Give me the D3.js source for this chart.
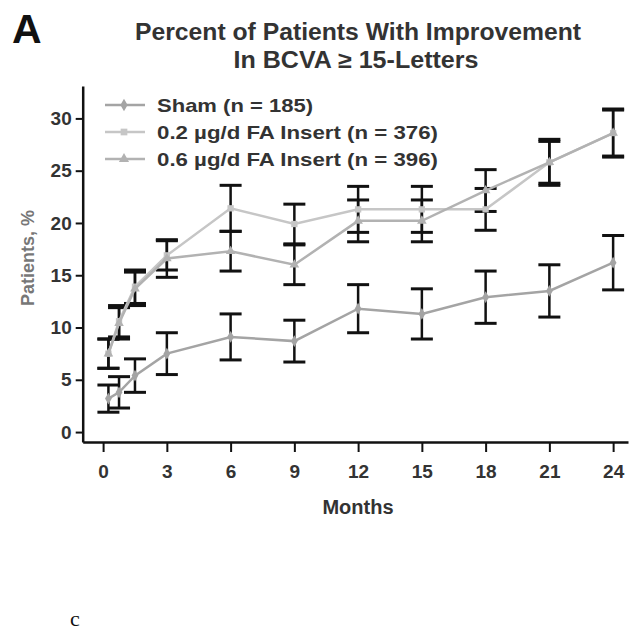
<!DOCTYPE html>
<html>
<head>
<meta charset="utf-8">
<script src="https://cdn.jsdelivr.net/npm/d3@7"></script>
<style>
  html, body { margin: 0; padding: 0; background: #fff; }
  svg { display: block; }
</style>
</head>
<body>
<svg id="chart" width="638" height="637" font-family="'Liberation Sans', Arial, sans-serif"></svg>
<script>
// ---- data ----
const months = [0.25, 0.75, 1.5, 3, 6, 9, 12, 15, 18, 21, 24];
const shamValues = [3.2, 3.8, 5.4, 7.5, 9.1, 8.7, 11.8, 11.3, 12.9, 13.5, 16.2];
const shamErrors = [1.3, 1.5, 1.6, 2.0, 2.2, 2.0, 2.3, 2.4, 2.5, 2.5, 2.6];
const fa02Values = [7.5, 10.6, 13.9, 16.9, 21.4, 19.9, 21.3, 21.3, 21.3, 25.8, 28.6];
const fa02Errors = [1.4, 1.5, 1.6, 1.4, 2.2, 1.9, 2.2, 2.2, 2.0, 2.2, 2.3];
const fa06Values = [7.5, 10.4, 13.7, 16.6, 17.3, 16.0, 20.2, 20.2, 23.1, 25.8, 28.6];
const fa06Errors = [1.4, 1.5, 1.6, 1.8, 1.9, 1.9, 2.0, 2.0, 2.0, 2.0, 2.2];
const seriesNames = ["Sham (n = 185)", "0.2 \u00b5g/d FA Insert (n = 376)", "0.6 \u00b5g/d FA Insert (n = 396)"];
const xTicks = [0, 3, 6, 9, 12, 15, 18, 21, 24];
const yTicks = [0, 5, 10, 15, 20, 25, 30];

const series = [
  { name: seriesNames[0], values: shamValues, errors: shamErrors, color: "#a4a4a4", symbol: d3.symbolDiamond, w: 156 },
  { name: seriesNames[1], values: fa02Values, errors: fa02Errors, color: "#c6c6c6", symbol: d3.symbolSquare, w: 281 },
  { name: seriesNames[2], values: fa06Values, errors: fa06Errors, color: "#b2b2b2", symbol: d3.symbolTriangle, w: 281 }
];

const svg = d3.select("#chart");

const x = d3.scaleLinear().domain([-0.96, 24.7]).range([82.7, 628]);
const y = d3.scaleLinear().domain([-0.95, 33.1]).range([442, 86]);

// panel letter and title
svg.append("text").attr("x", 12).attr("y", 43)
  .attr("font-size", 41).attr("font-weight", "bold").attr("fill", "#111").text("A");
svg.append("text").attr("x", 358).attr("y", 40).attr("text-anchor", "middle")
  .attr("font-size", 23).attr("font-weight", "bold").attr("fill", "#333")
  .attr("textLength", 446).attr("lengthAdjust", "spacingAndGlyphs")
  .text("Percent of Patients With Improvement");
svg.append("text").attr("x", 356).attr("y", 68).attr("text-anchor", "middle")
  .attr("font-size", 23).attr("font-weight", "bold").attr("fill", "#333")
  .attr("textLength", 245).attr("lengthAdjust", "spacingAndGlyphs")
  .text("In BCVA \u2265 15-Letters");

// axes
const yAxis = svg.append("g").attr("transform", "translate(82.7,0)")
  .call(d3.axisLeft(y).tickValues(yTicks).tickSize(7).tickSizeOuter(0).tickPadding(4));
const xAxis = svg.append("g").attr("transform", "translate(0,442)")
  .call(d3.axisBottom(x).tickValues(xTicks).tickSize(10).tickSizeOuter(0).tickPadding(13));
[yAxis, xAxis].forEach(g => {
  g.attr("font-family", null);
  g.select(".domain").attr("stroke", "#111").attr("stroke-width", 2.5);
  g.selectAll(".tick line").attr("stroke", "#111").attr("stroke-width", 2);
  g.selectAll(".tick text").attr("font-size", 19).attr("font-weight", "bold")
    .attr("fill", "#333");
});

svg.append("text").attr("x", 358).attr("y", 514).attr("text-anchor", "middle")
  .attr("font-size", 20).attr("font-weight", "bold").attr("fill", "#333").text("Months");
svg.append("text").attr("transform", "translate(34,258) rotate(-90)").attr("text-anchor", "middle")
  .attr("font-size", 18).attr("font-weight", "bold").attr("fill", "#777").text("Patients, %");

svg.append("text").attr("x", 70).attr("y", 626)
  .attr("font-family", "'Liberation Serif', 'Times New Roman', serif")
  .attr("font-size", 22).attr("fill", "#111").text("c");

// error bars
const capHalf = 11;
series.forEach(s => {
  const g = svg.append("g");
  months.forEach((m, i) => {
    const cx = x(m), top = y(s.values[i] + s.errors[i]), bot = y(s.values[i] - s.errors[i]);
    g.append("line").attr("x1", cx).attr("x2", cx).attr("y1", top).attr("y2", bot)
      .attr("stroke", "#111").attr("stroke-width", 2.5);
    [top, bot].forEach(yy => g.append("line").attr("x1", cx - capHalf).attr("x2", cx + capHalf)
      .attr("y1", yy).attr("y2", yy).attr("stroke", "#111").attr("stroke-width", 3));
  });
});

// lines and markers
const line = d3.line().x((d, i) => x(months[i])).y(d => y(d));
series.forEach(s => {
  svg.append("path").attr("d", line(s.values)).attr("fill", "none")
    .attr("stroke", s.color).attr("stroke-width", 2.5);
  svg.append("g").selectAll("path").data(s.values).join("path")
    .attr("transform", (d, i) => `translate(${x(months[i])},${y(d)})`)
    .attr("d", d3.symbol().type(s.symbol).size(40)).attr("fill", s.color);
});

// legend
const legendY = [105, 132, 159];
series.forEach((s, i) => {
  const ly = legendY[i];
  svg.append("line").attr("x1", 105).attr("x2", 145).attr("y1", ly).attr("y2", ly)
    .attr("stroke", s.color).attr("stroke-width", 2.5);
  svg.append("path").attr("transform", `translate(124,${ly})`)
    .attr("d", d3.symbol().type(s.symbol).size(45)).attr("fill", s.color);
  svg.append("text").attr("x", 157).attr("y", ly + 7)
    .attr("font-size", 19).attr("font-weight", "bold").attr("fill", "#333")
    .attr("textLength", s.w).attr("lengthAdjust", "spacingAndGlyphs").text(s.name);
});
</script>
</body>
</html>
